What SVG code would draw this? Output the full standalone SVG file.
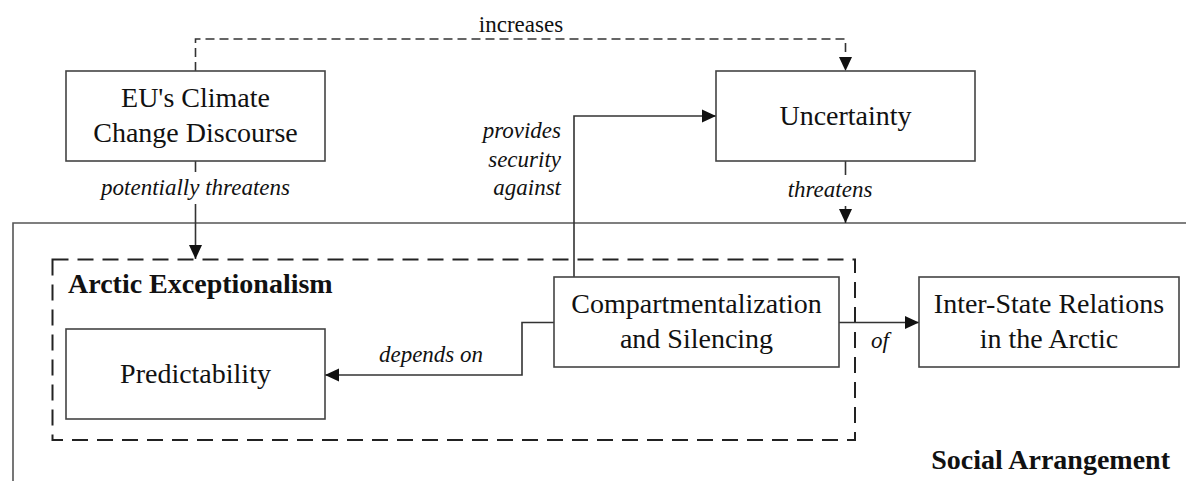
<svg xmlns="http://www.w3.org/2000/svg" width="1186" height="481" viewBox="0 0 1186 481">
  <style>
    .box { fill: #ffffff; stroke: #444444; stroke-width: 1.6; }
    .frame { fill: none; stroke: #555555; stroke-width: 1.6; }
    .group { fill: none; stroke: #222222; stroke-width: 2; stroke-dasharray: 16 9; }
    .link { fill: none; stroke: #333333; stroke-width: 1.6; }
    .dash { stroke-dasharray: 9 5; }
    .t { font-family: "Liberation Serif", "Times New Roman", serif; font-size: 28px; fill: #111111; text-anchor: middle; }
    .title { font-family: "Liberation Serif", "Times New Roman", serif; font-size: 28px; font-weight: bold; fill: #111111; }
    .lab { font-family: "Liberation Serif", "Times New Roman", serif; font-size: 23px; font-style: italic; fill: #111111; }
    .plain { font-family: "Liberation Serif", "Times New Roman", serif; font-size: 23px; fill: #111111; }
  </style>
  <defs>
    <marker id="arrow" markerUnits="userSpaceOnUse" markerWidth="14" markerHeight="14" viewBox="0 0 14 14" refX="14" refY="7" orient="auto">
      <path d="M0,0.5 L14,7 L0,13.5 Z" fill="#111111"/>
    </marker>
  </defs>

  <!-- outer social arrangement frame (open to the right and bottom) -->
  <g id="social-arrangement">
    <path class="frame" d="M13,481 V223 H1186"/>
    <text class="title" x="1170" y="469" text-anchor="end">Social Arrangement</text>
  </g>

  <!-- dashed grouping -->
  <g id="arctic-exceptionalism">
    <rect class="group" x="52.5" y="259.5" width="802.5" height="180.5"/>
    <text class="title" x="68" y="293">Arctic Exceptionalism</text>
  </g>

  <!-- connectors -->
  <g id="connectors">
    <path class="link dash" d="M195.5,71 V39 H845.5 V71" marker-end="url(#arrow)"/>
    <text class="plain" x="521" y="32" text-anchor="middle">increases</text>

    <path class="link" d="M195.5,161 V172"/>
    <path class="link" d="M195.5,204 V259" marker-end="url(#arrow)"/>
    <text class="lab" x="195.5" y="195" text-anchor="middle">potentially threatens</text>

    <path class="link" d="M845.5,161 V175"/>
    <path class="link" d="M845.5,206 V223" marker-end="url(#arrow)"/>
    <text class="lab" x="830" y="197" text-anchor="middle">threatens</text>

    <path class="link" d="M574,277 V116 H716" marker-end="url(#arrow)"/>
    <text class="lab" x="561" y="138" text-anchor="end">provides</text>
    <text class="lab" x="561" y="167" text-anchor="end">security</text>
    <text class="lab" x="561" y="195" text-anchor="end">against</text>

    <path class="link" d="M554,322.5 H522 V375 H325" marker-end="url(#arrow)"/>
    <text class="lab" x="431" y="362" text-anchor="middle">depends on</text>

    <path class="link" d="M839,322.5 H919" marker-end="url(#arrow)"/>
    <text class="lab" x="880" y="348" text-anchor="middle">of</text>
  </g>

  <!-- nodes -->
  <g id="eu-climate-discourse">
    <rect class="box" x="66" y="71" width="259" height="90"/>
    <text class="t" x="195.5" y="107">EU's Climate</text>
    <text class="t" x="195.5" y="142">Change Discourse</text>
  </g>

  <g id="uncertainty">
    <rect class="box" x="716" y="71" width="259" height="90"/>
    <text class="t" x="845.5" y="125">Uncertainty</text>
  </g>

  <g id="predictability">
    <rect class="box" x="66" y="329" width="259" height="90"/>
    <text class="t" x="195.5" y="383">Predictability</text>
  </g>

  <g id="compartmentalization">
    <rect class="box" x="554" y="277" width="285" height="90"/>
    <text class="t" x="696.5" y="313">Compartmentalization</text>
    <text class="t" x="696.5" y="348">and Silencing</text>
  </g>

  <g id="inter-state-relations">
    <rect class="box" x="919" y="277" width="260" height="90"/>
    <text class="t" x="1049" y="313">Inter-State Relations</text>
    <text class="t" x="1049" y="348">in the Arctic</text>
  </g>
</svg>
